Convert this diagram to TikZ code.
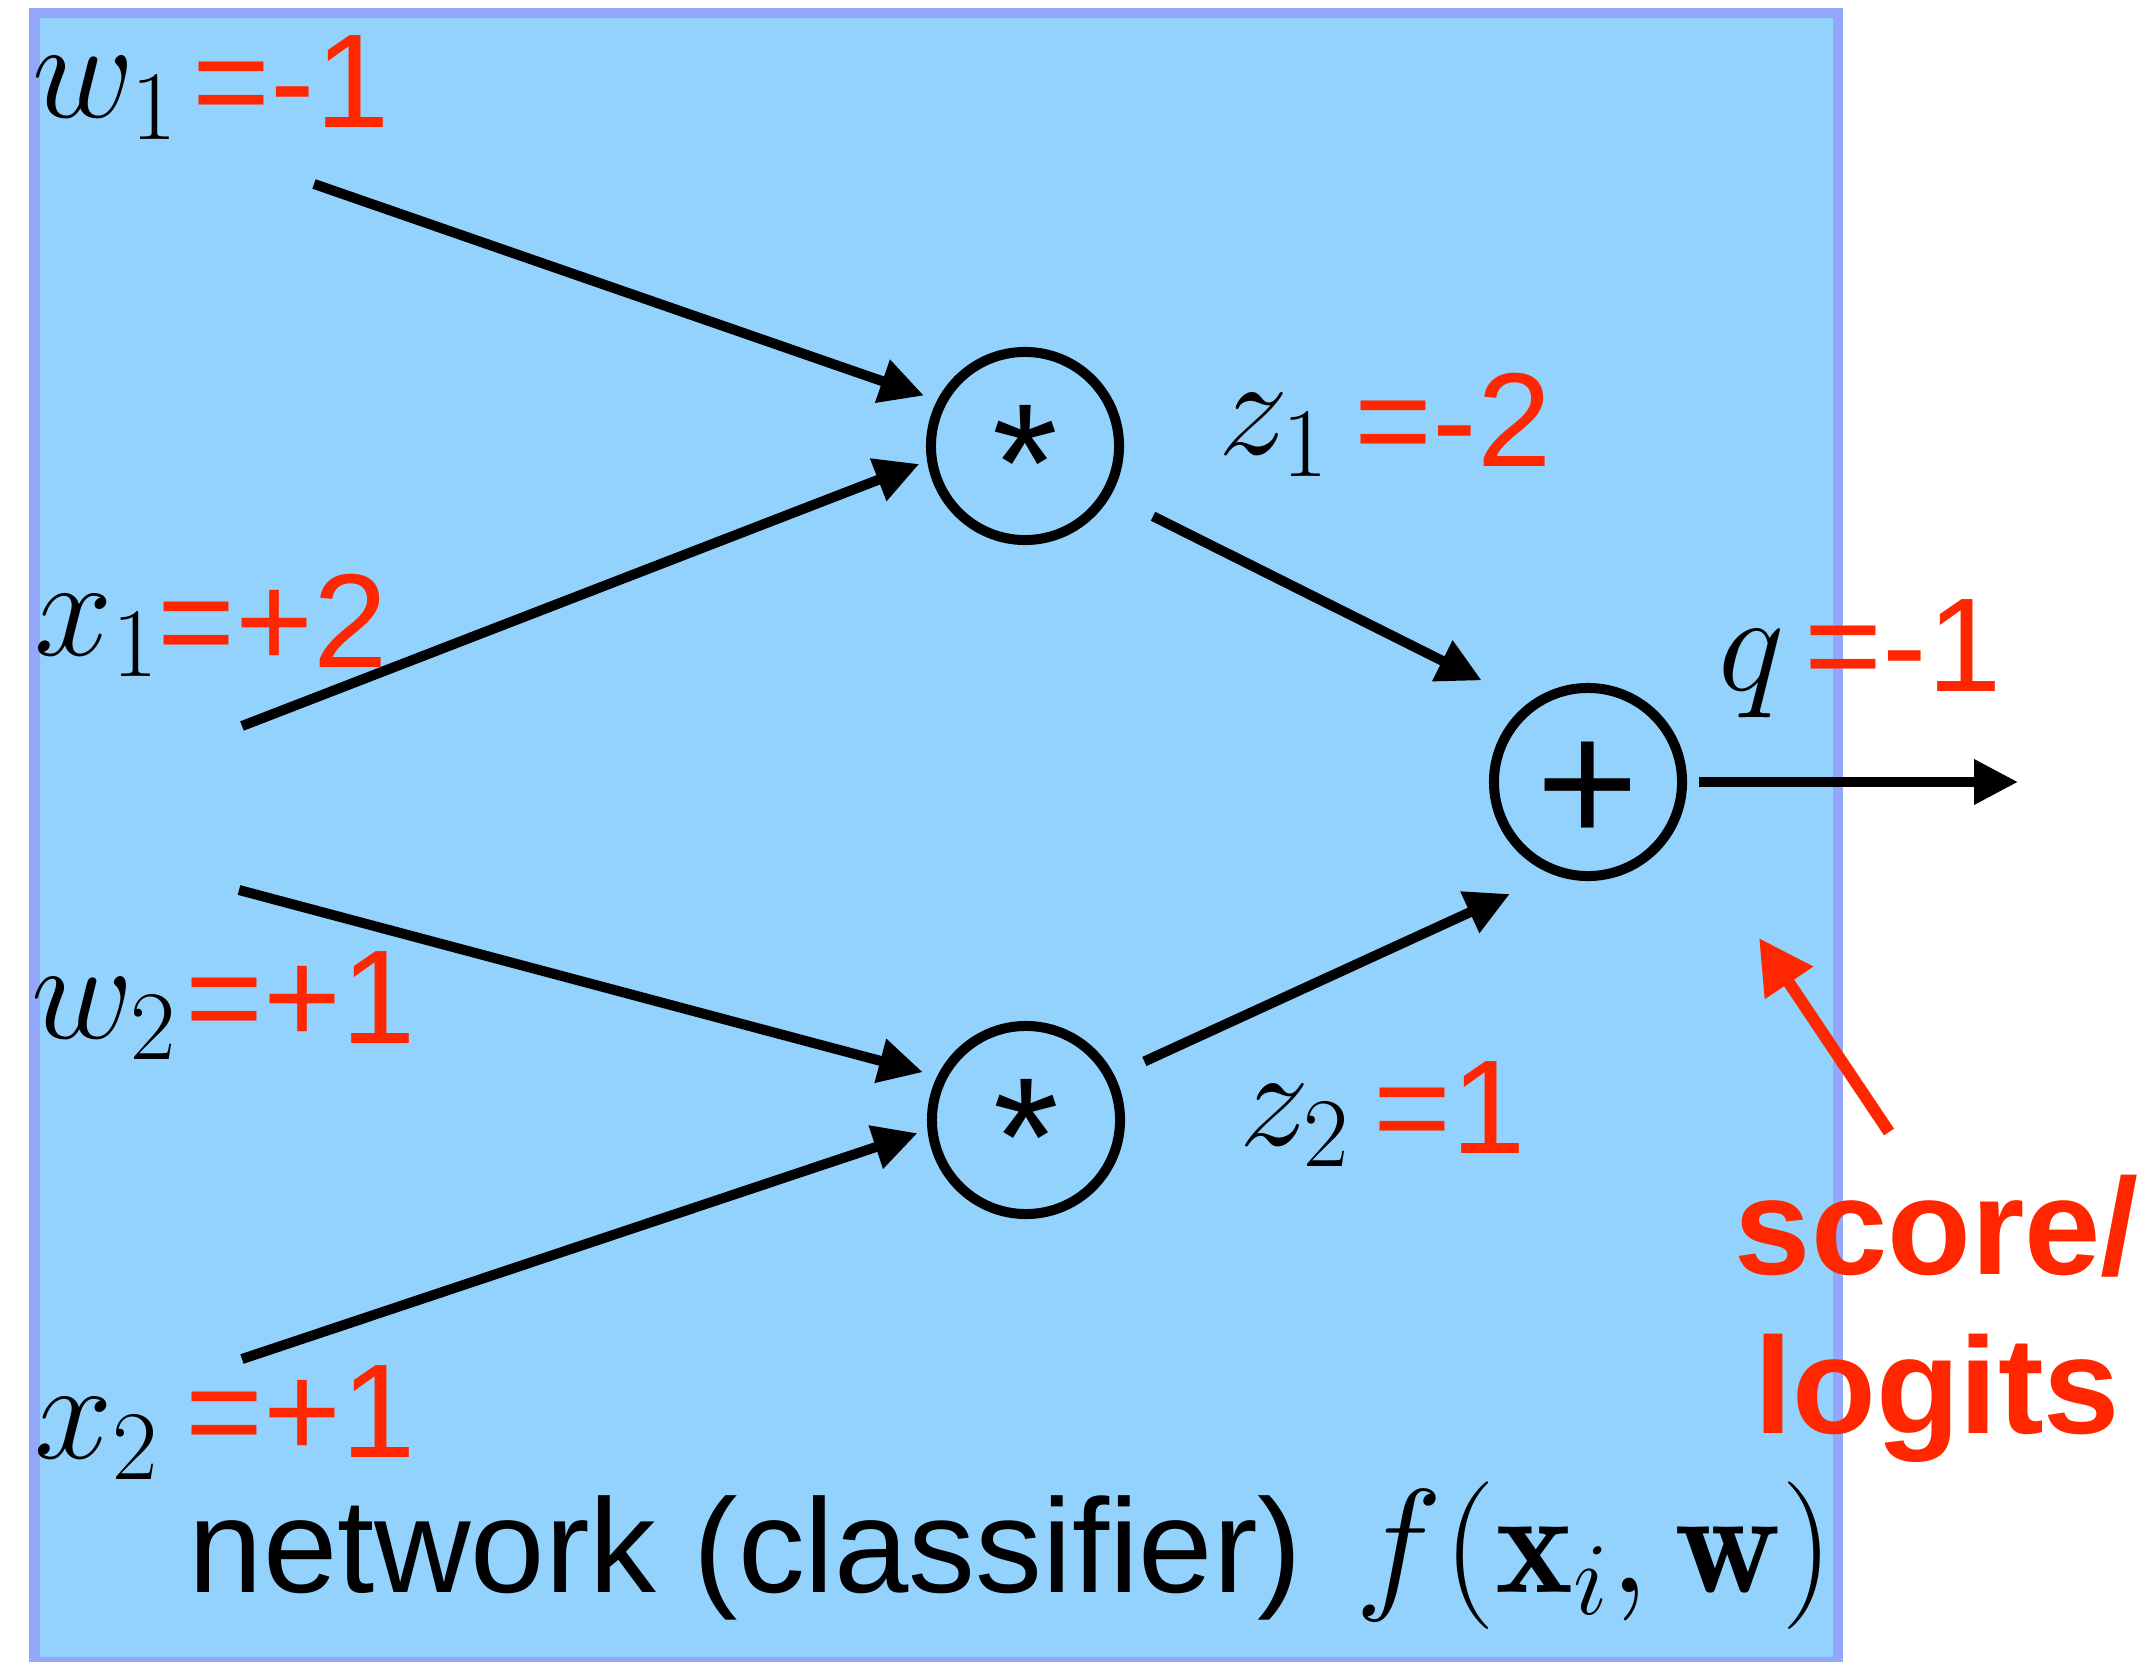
\RequirePackage{fix-cm}
\documentclass[tikz,border=0pt]{standalone}
\usepackage{fontspec}
\setsansfont{Liberation Sans}
\usepackage{tikz}
\usetikzlibrary{arrows.meta,positioning}
\definecolor{nnblue}{RGB}{147,210,253}
\definecolor{nnframe}{RGB}{148,168,251}
\definecolor{nnred}{RGB}{255,38,0}
\tikzset{
  opnode/.style={circle, draw, line width=0.1cm, minimum size=1.88cm, inner sep=0pt, outer sep=0pt},
  varlbl/.style={anchor=base west, inner sep=0pt, font=\fontsize{40}{48}\selectfont},
  vallbl/.style={anchor=base west, inner sep=0pt, text=nnred, font=\sffamily\fontsize{38}{46}\selectfont},
  conn/.style={line width=0.1cm, -{Triangle[length=0.44cm,width=0.43cm]}},
  ptr/.style={line width=0.12cm, nnred, -{Triangle[length=0.54cm,width=0.55cm]}},
}

\begin{document}
\begin{tikzpicture}[x=0.01cm,y=-0.01cm]
  \useasboundingbox (0,0) rectangle (2140,1661);

  % Network box
  \draw[nnframe, line width=0.1cm, fill=nnblue] (34.5,13) rectangle (1838,1662);

  % Operation nodes
  \node[opnode, font=\sffamily\fontsize{48}{56}\selectfont] (mul1) at (1025,446) {\raisebox{-0.45em}[0pt][0pt]{*}};
  \node[opnode, font=\sffamily\fontsize{48}{56}\selectfont] (mul2) at (1026,1120) {\raisebox{-0.45em}[0pt][0pt]{*}};
  \node[opnode, font=\sffamily\fontsize{50}{60}\selectfont] (plus) at (1588,782) {\raisebox{-0.352em}[0pt][0pt]{+}};

  % Inputs and weights
  \node[varlbl] (w1) at (32,118) {$w_1$};
  \node[vallbl] (w1val) at (192,128) {=-1};
  \node[varlbl] (x1) at (34,655) {$x_1$};
  \node[vallbl] (x1val) at (157,667) {=+2};
  \node[varlbl] (w2) at (31,1038) {$w_2$};
  \node[vallbl] (w2val) at (185,1043) {=+1};
  \node[varlbl] (x2) at (34,1458) {$x_2$};
  \node[vallbl] (x2val) at (185,1457) {=+1};

  % Intermediate values and output
  \node[varlbl] (z1) at (1218,455) {$z_1$};
  \node[vallbl] (z1val) at (1354,466) {=-2};
  \node[varlbl] (z2) at (1239,1145) {$z_2$};
  \node[vallbl] (z2val) at (1373,1153) {=1};
  \node[varlbl] (q) at (1718,690) {$q$};
  \node[vallbl] (qval) at (1804,691) {=-1};

  % Captions
  \node[anchor=base west, inner sep=0pt, font=\sffamily\fontsize{38}{46}\selectfont] (netlbl) at (188,1592) {network (classifier)\hspace{0.4em}{\fontsize{42}{50}\selectfont$f(\mathbf{x}_i,\mathbf{w})$}};
  \node[anchor=base, inner sep=0pt, align=center, text=nnred, font=\sffamily\bfseries\fontsize{39}{45}\selectfont] (scorelbl) at (1937,1433) {score/\\logits};

  % Free ends
  \coordinate (w1tail) at (314,184);
  \coordinate (x1tail) at (242,726);
  \coordinate (w2tail) at (239,890);
  \coordinate (x2tail) at (242,1359);
  \coordinate (qtip) at (2018,782);
  \coordinate (ptrtail) at (1889,1132);
  \coordinate (ptrtip) at (1759,938);

  % Connectors
  \draw[conn, shorten >=0.19cm] (w1tail) -- (mul1.152);
  \draw[conn, shorten >=0.135cm] (x1tail) -- (mul1.188);
  \draw[conn, shorten >=0.2cm] (w2tail) -- (mul2.153);
  \draw[conn, shorten >=0.156cm] (x2tail) -- (mul2.185);
  \draw[conn, shorten <=0.52cm, shorten >=0.57cm] (mul1.-30) -- (plus.126);
  \draw[conn, shorten <=0.38cm, shorten >=0.54cm] (mul2.27) -- (plus.252);
  \draw[conn, shorten <=0.17cm] (plus.east) -- (qtip);
  \draw[ptr] (ptrtail) -- (ptrtip);
\end{tikzpicture}
\end{document}
